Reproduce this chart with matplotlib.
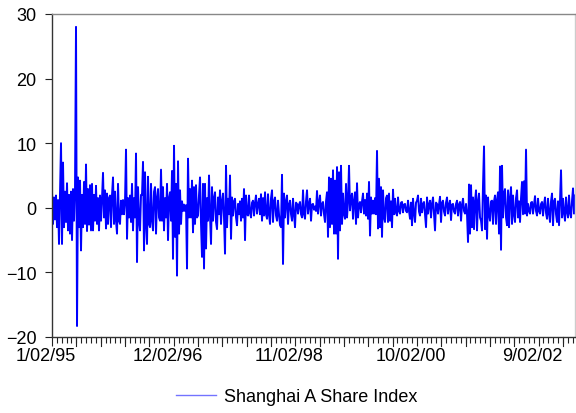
import numpy as np
import matplotlib
matplotlib.use("Agg")
import matplotlib.pyplot as plt
import matplotlib.transforms as mtransforms
from matplotlib.ticker import FixedLocator

plt.rcParams['font.family'] = ['Liberation Sans', 'DejaVu Sans']

# daily returns (%), one value per pixel column
returns = [
    2.4, -2.5, 1.6, -1.8, 1.9, -3.0, 1.2, -5.6, 2.0, 10.0,
    -5.6, 7.0, -3.0, 2.5, -2.2, 3.8, -3.5, 2.0, -4.0, 2.5,
    -5.0, 2.9, -2.0, 3.0, 28.0, -18.3, 4.7, -3.0, 4.2, -6.6,
    2.0, -3.0, 4.0, -2.5, 6.7, -3.6, 2.9, -2.6, 3.5, -3.5,
    3.7, -3.5, 2.0, -2.0, 3.4, -2.5, 1.5, -3.5, 1.9, -2.0,
    1.5, 5.4, -1.5, 2.7, -3.2, 2.2, -2.5, 1.5, 1.9, -3.0,
    2.0, 4.7, -2.5, 2.5, -2.0, -4.0, 3.7, -2.0, -2.5, 1.1,
    -1.0, 1.2, -1.0, 1.0, 9.0, -4.8, 1.5, -1.5, 1.9, -2.2,
    3.7, -3.5, 1.5, -1.5, 8.4, -8.4, 3.2, -2.0, -3.5, 2.0,
    2.0, 7.1, -6.6, 5.5, -2.5, -5.6, 4.8, -2.5, -3.0, 3.7,
    -2.0, -3.5, 2.5, 3.2, -4.0, 1.5, 2.9, -1.5, -2.0, 5.9,
    -2.0, 3.2, -3.5, 1.5, -1.5, 3.7, -5.0, 1.5, 2.4, -2.0,
    5.7, -7.9, 9.6, -4.5, 3.7, -10.5, 7.2, -4.0, 2.7, -2.5,
    1.0, -0.5, 0.5, -0.5, 0.4, -9.4, 7.6, -1.5, 2.9, -1.5,
    4.2, -3.8, 3.2, -2.5, 3.5, -1.5, -1.2, 2.0, 4.7, -2.5,
    -7.6, 3.7, -9.4, 3.7, -6.3, 1.5, -2.0, 5.0, -1.2, -5.6,
    3.2, -2.0, 1.5, 2.4, -2.2, -3.3, 1.6, -1.0, 2.7, -2.5,
    1.0, 2.2, -1.5, -7.1, 6.5, -3.0, 1.4, -1.0, 5.0, -4.8,
    1.6, -1.2, 1.0, 1.4, -1.5, -2.7, 0.6, -1.0, 1.0, -2.0,
    1.4, -1.5, 2.9, -5.0, 1.9, -1.0, -1.2, 1.9, -0.8, -1.5,
    0.8, 1.1, -1.2, 0.8, 1.9, -0.9, 0.5, 1.4, -1.0, 2.1,
    -2.0, 1.5, -1.2, 2.4, -1.0, -1.7, 2.1, -1.0, -2.5, 1.5,
    2.7, -2.2, 1.0, 1.6, -1.2, -2.0, 1.1, -1.0, -2.7, -3.0,
    5.1, -8.7, 2.2, -1.5, 1.0, 1.9, -2.5, 0.5, 1.1, -1.0,
    -2.0, 1.4, -1.0, -3.0, 0.8, 0.6, -0.9, 0.5, 0.9, -1.0,
    -1.5, 2.7, -1.0, -1.7, 1.0, 2.7, -0.9, 0.5, 1.4, -2.0,
    0.5, 0.6, -0.3, 0.2, -0.5, 2.6, -0.9, 0.8, 1.9, -1.2,
    0.6, 0.9, -1.0, -2.2, 1.0, 2.4, -4.5, 4.7, -3.0, 4.5,
    -2.5, 5.8, -4.0, 4.2, -4.0, 6.3, -7.9, 5.5, -3.5, 6.5,
    -2.5, 2.2, -1.0, -1.7, 3.7, -1.5, 1.0, 6.5, -0.4, 1.5,
    2.2, -1.7, 1.0, 2.4, -2.5, 3.8, -1.5, 0.5, 0.9, -0.7,
    1.0, 2.2, -0.9, 1.2, -1.2, 2.2, -1.7, 4.0, -4.3, 1.6,
    -0.9, 1.1, -0.9, 1.5, -1.0, 8.8, -3.2, 4.5, -3.0, 3.2,
    -4.5, 2.7, -1.5, -2.2, 1.5, 1.9, -2.2, 2.2, -2.0, 1.0,
    -3.0, 2.8, -1.0, 1.4, -0.8, -1.2, 1.6, -0.5, -0.9, 0.8,
    0.9, -0.7, 0.5, 0.6, -0.5, -0.7, 1.1, -0.5, -1.7, 0.8,
    -2.7, 1.4, -0.8, -2.2, 0.8, 1.1, 1.9, -0.6, -1.2, 1.4,
    -0.7, 0.6, 0.9, -1.0, -3.0, 1.6, -0.9, 0.5, 1.1, -1.5,
    0.6, 1.6, -1.0, -3.5, 0.8, 0.6, -0.9, 0.5, 1.7, -2.2,
    0.8, 1.1, -0.6, -1.2, 0.8, 1.6, -0.9, 0.5, 1.1, -1.9,
    0.5, 0.6, -0.6, -0.9, 0.6, 1.1, -1.2, 0.5, 0.9, -2.0,
    0.5, 1.4, -0.5, -0.9, 0.6, -1.0, -5.3, 3.6, -4.0, 3.5,
    -3.0, 1.6, -3.3, 1.0, 2.7, -3.5, 1.0, 2.2, -1.5, -2.0,
    -3.5, 3.5, 9.5, -3.3, 1.9, -4.8, 1.6, -1.0, -2.0, 1.0,
    1.1, -2.5, 1.0, 1.9, -2.5, 1.2, 2.4, -4.0, 6.4, -6.5,
    6.5, -1.5, 2.2, 2.9, -1.5, -2.7, 2.7, -3.0, 1.5, 3.2,
    -2.5, 1.9, -1.0, -2.2, 1.5, 2.7, -1.5, 1.0, -2.2, 1.5,
    4.0, -1.0, 4.1, -0.9, 9.0, -1.2, 0.6, -0.5, -0.9, 0.8,
    0.9, -0.9, 0.5, 1.8, -0.5, -1.2, 1.4, -0.5, -0.9, 0.6,
    0.9, -1.2, 0.5, 1.6, -0.8, -1.7, 1.4, -0.8, -2.2, 1.0,
    2.2, -2.7, 1.0, 1.4, -1.0, -2.2, 1.0, -2.7, 1.2, 5.8,
    -1.5, 1.4, -0.8, -2.0, 1.6, -0.6, -1.5, 1.9, -0.8, -1.5,
    1.1, 3.0, -0.9, 1.9,
]

n_obs = 2150
date_labels = ["1/02/95", "12/02/96", "11/02/98", "10/02/00", "9/02/02"]
label_obs = [0, 500, 1000, 1500, 2000]
series_name = "Shanghai A Share Index"

obs = np.linspace(0, n_obs, len(returns))

fig = plt.figure(figsize=(5.76, 4.14), dpi=100)
ax = fig.add_axes([0.0903, 0.1836, 0.9080, 0.7802])

ax.plot(obs, returns, color="#0000ff", linewidth=1.4, label=series_name)

ax.set_xlim(0, n_obs)
ax.set_ylim(-20, 30)
ax.set_yticks([-20, -10, 0, 10, 20, 30])
ax.set_xticks(label_obs)
ax.set_xticklabels(date_labels)
ax.xaxis.set_minor_locator(FixedLocator(np.arange(0, n_obs + 1, 20)))

# unlabelled major ticks every 100 obs
for xv in np.arange(0, n_obs + 1, 100):
    if xv not in label_obs:
        ax.plot([xv, xv], [0, -0.028], transform=ax.get_xaxis_transform(),
                color="#222222", linewidth=0.8, clip_on=False)

ax.tick_params(axis="y", direction="out", length=5, width=0.8, pad=6,
               labelsize=13, color="#222222")
ax.tick_params(axis="x", which="major", direction="out", length=6.5, width=0.8,
               pad=1, labelsize=13, color="#222222")
ax.tick_params(axis="x", which="minor", direction="out", length=4, width=0.8,
               color="#222222")

shift = mtransforms.ScaledTranslation(-6 / 100, 0, fig.dpi_scale_trans)
for lab in ax.get_xticklabels():
    lab.set_transform(lab.get_transform() + shift)

ax.spines["left"].set_color("#333333")
ax.spines["bottom"].set_color("#333333")
ax.spines["top"].set_color("#888888")
ax.spines["right"].set_color("#cccccc")
for s in ax.spines.values():
    s.set_linewidth(1.0)

leg = fig.legend(loc="center", bbox_to_anchor=(0.515, 0.039), frameon=False,
                 fontsize=13, handlelength=2.2, handletextpad=0.45)
leg.get_lines()[0].set_alpha(0.55)
leg.get_lines()[0].set_linewidth(1.0)

fig.savefig("out.png", dpi=100)
